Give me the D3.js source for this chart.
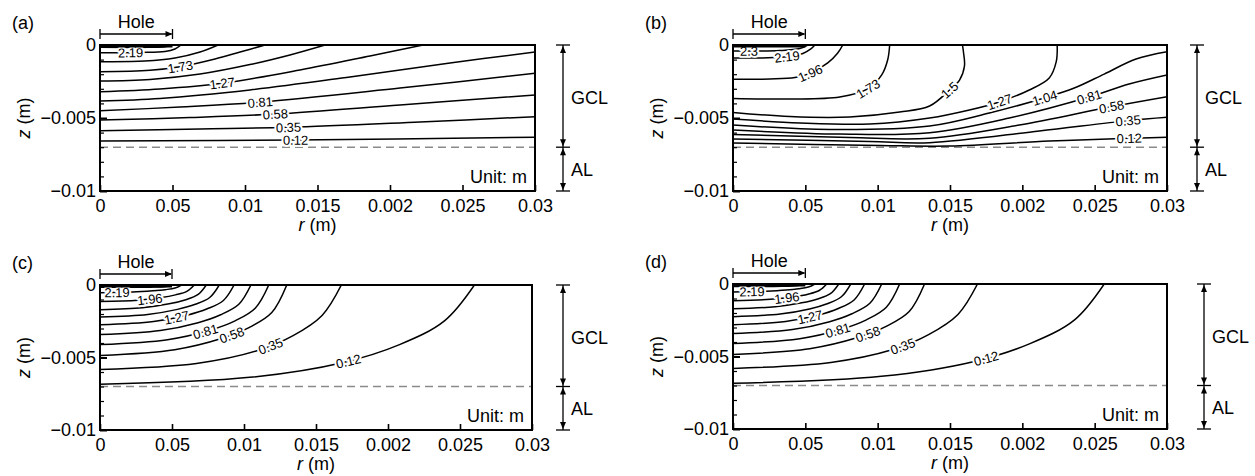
<!DOCTYPE html>
<html><head><meta charset="utf-8">
<script src="https://cdn.jsdelivr.net/npm/d3@7"></script>
<style>
html,body{margin:0;padding:0;background:#fff;}
svg{display:block;font-family:"Liberation Sans",Arial,Helvetica,sans-serif;}
</style></head><body>
<svg id="chart" width="1255" height="476"></svg>
<script>
// ---------------- data ----------------
const panelLabels = ["(a)", "(b)", "(c)", "(d)"];
const xTickValues = [0, 0.005, 0.01, 0.015, 0.02, 0.025, 0.03];
const xTickLabels = ["0", "0.05", "0.01", "0.015", "0.002", "0.025", "0.03"];
const yTickValues = [0, -0.005, -0.01];
const yTickLabels = ["0", "\u22120.005", "\u22120.01"];
const yMinorTicks = [-0.001, -0.002, -0.003, -0.004, -0.006, -0.007, -0.008, -0.009];
const rDomain = [0, 0.03];
const zDomain = [-0.01, 0];
const holeRadius = 0.005;     // m
const interfaceZ = -0.007;    // GCL / AL interface, m
const layerNames = ["GCL", "AL"];
const unitText = "Unit: m";
const MM = 0.001;             // contour points below are [r, z] in mm

const contoursA = [
  {level: 2.3,  labelR: null,  pts: [[0,-0.16],[3.45,-0.16],[4.48,-0.12],[4.90,0]]},
  {level: 2.19, labelR: 2.07,  pts: [[0,-0.53],[2.76,-0.51],[4.48,-0.45],[5.17,-0.27],[5.59,0]]},
  {level: 1.96, labelR: null,  pts: [[0,-1.14],[3.10,-1.10],[5.17,-0.89],[6.90,-0.48],[8.14,0]]},
  {level: 1.73, labelR: 5.52,  pts: [[0,-1.83],[3.45,-1.73],[5.52,-1.49],[7.93,-0.96],[9.66,-0.48],[11.38,0]]},
  {level: 1.5,  labelR: null,  pts: [[0,-2.47],[3.45,-2.36],[6.90,-1.99],[10.34,-1.34],[13.10,-0.68],[15.52,0]]},
  {level: 1.27, labelR: 8.41,  pts: [[0,-3.20],[4.14,-3.01],[8.41,-2.62],[13.79,-1.71],[18.62,-0.75],[22.28,0]]},
  {level: 1.04, labelR: null,  pts: [[0,-3.84],[4.14,-3.66],[10.34,-3.08],[17.24,-2.19],[24.14,-1.23],[30,-0.48]]},
  {level: 0.81, labelR: 11.03, pts: [[0,-4.50],[5.52,-4.25],[11.03,-3.92],[20.69,-2.95],[30,-1.94]]},
  {level: 0.58, labelR: 12.07, pts: [[0,-5.14],[6.21,-4.97],[12.07,-4.73],[20.69,-4.11],[30,-3.42]]},
  {level: 0.35, labelR: 12.97, pts: [[0,-5.87],[6.90,-5.75],[12.97,-5.64],[22.07,-5.27],[30,-4.91]]},
  {level: 0.12, labelR: 13.45, pts: [[0,-6.58],[13.45,-6.51],[30,-6.32]]}
];

const contoursB = [
  {level: 2.3,  labelR: 1.10,  pts: [[0,-0.41],[3.24,-0.38],[4.62,-0.24],[5.17,0]]},
  {level: 2.19, labelR: 3.72,  pts: [[0,-0.89],[2.41,-0.88],[3.79,-0.79],[4.83,-0.58],[5.38,-0.27],[5.66,0]]},
  {level: 1.96, labelR: 5.31,  pts: [[0,-2.35],[2.55,-2.33],[4.28,-2.23],[5.31,-1.94],[6.55,-1.23],[7.24,-0.55],[7.59,0]]},
  {level: 1.73, labelR: 9.31,  pts: [[0,-3.66],[3.93,-3.70],[7.38,-3.56],[9.31,-3.01],[10.28,-2.05],[10.69,-1.03],[10.83,0]]},
  {level: 1.5,  labelR: 14.97, pts: [[0,-4.62],[3.93,-4.90],[8.07,-4.93],[11.52,-4.59],[13.59,-4.18],[14.97,-3.08],[15.66,-2.40],[16.00,-1.44],[15.93,-0.48],[15.86,0]]},
  {level: 1.27, labelR: 18.41, pts: [[0,-5.07],[4.62,-5.34],[9.45,-5.41],[13.59,-5.00],[16.34,-4.45],[18.41,-3.90],[20.48,-3.08],[21.86,-2.26],[22.34,-1.16],[22.41,0]]},
  {level: 1.04, labelR: 21.52, pts: [[0,-5.48],[6.69,-5.79],[13.59,-5.55],[17.72,-4.66],[21.52,-3.63],[23.59,-2.95],[25.66,-1.99],[27.86,-0.96],[30,-0.46]]},
  {level: 0.81, labelR: 24.62, pts: [[0,-5.82],[7.38,-6.10],[13.59,-6.01],[19.10,-5.00],[24.62,-3.56],[27.38,-2.67],[30,-2.05]]},
  {level: 0.58, labelR: 26.14, pts: [[0,-6.13],[8.07,-6.34],[13.59,-6.39],[19.79,-5.48],[26.14,-4.23],[30,-3.54]]},
  {level: 0.35, labelR: 27.31, pts: [[0,-6.44],[9.45,-6.61],[13.59,-6.69],[21.17,-5.89],[27.31,-5.18],[30,-4.95]]},
  {level: 0.12, labelR: 27.38, pts: [[0,-6.71],[10.14,-6.88],[14.97,-6.92],[21.86,-6.58],[27.38,-6.39],[30,-6.32]]}
];

const contoursC = [
  {level: 2.3,  labelR: null,  pts: [[0,-0.16],[3.50,-0.15],[4.60,-0.10],[5.03,0]]},
  {level: 2.19, labelR: 1.15,  pts: [[0,-0.53],[2.26,-0.49],[3.68,-0.40],[4.53,-0.32],[5.21,-0.21],[5.66,0]]},
  {level: 1.96, labelR: 3.45,  pts: [[0,-1.14],[2.62,-1.05],[4.26,-0.87],[5.24,-0.68],[6.03,-0.44],[6.55,0]]},
  {level: 1.73, labelR: null,  pts: [[0,-1.71],[2.95,-1.57],[4.80,-1.30],[5.90,-1.03],[6.79,-0.67],[7.38,0]]},
  {level: 1.5,  labelR: null,  pts: [[0,-2.21],[3.31,-2.03],[5.38,-1.68],[6.62,-1.33],[7.62,-0.86],[8.28,0]]},
  {level: 1.27, labelR: 5.29,  pts: [[0,-2.74],[3.72,-2.51],[6.05,-2.08],[7.45,-1.64],[8.57,-1.07],[9.31,0]]},
  {level: 1.04, labelR: null,  pts: [[0,-3.42],[4.19,-3.14],[6.81,-2.60],[8.38,-2.05],[9.64,-1.33],[10.48,0]]},
  {level: 0.81, labelR: 7.31,  pts: [[0,-4.11],[4.69,-3.77],[7.62,-3.12],[9.38,-2.47],[10.78,-1.60],[11.72,0]]},
  {level: 0.58, labelR: 9.14,  pts: [[0,-4.86],[5.19,-4.46],[8.43,-3.69],[10.38,-2.92],[11.93,-1.90],[12.97,0]]},
  {level: 0.35, labelR: 11.84, pts: [[0,-5.82],[6.70,-5.41],[10.89,-4.54],[13.41,-3.49],[15.42,-2.10],[16.76,0]]},
  {level: 0.12, labelR: 17.24, pts: [[0,-6.85],[10.40,-6.37],[16.90,-5.34],[20.80,-4.11],[23.92,-2.47],[26.00,0]]}
];

const contoursD = [
  {level: 2.3,  labelR: null,  pts: [[0,-0.17],[3.40,-0.16],[4.50,-0.10],[4.97,0]]},
  {level: 2.19, labelR: 1.29,  pts: [[0,-0.55],[2.26,-0.50],[3.68,-0.42],[4.53,-0.33],[5.21,-0.21],[5.66,0]]},
  {level: 1.96, labelR: 3.70,  pts: [[0,-1.16],[2.59,-1.06],[4.21,-0.88],[5.18,-0.70],[5.96,-0.45],[6.48,0]]},
  {level: 1.73, labelR: null,  pts: [[0,-1.71],[2.92,-1.57],[4.75,-1.30],[5.85,-1.03],[6.73,-0.67],[7.31,0]]},
  {level: 1.5,  labelR: null,  pts: [[0,-2.26],[3.26,-2.07],[5.29,-1.72],[6.51,-1.36],[7.49,-0.88],[8.14,0]]},
  {level: 1.27, labelR: 5.31,  pts: [[0,-2.81],[3.64,-2.58],[5.92,-2.14],[7.28,-1.69],[8.37,-1.10],[9.10,0]]},
  {level: 1.04, labelR: null,  pts: [[0,-3.42],[4.11,-3.14],[6.68,-2.60],[8.22,-2.05],[9.46,-1.33],[10.28,0]]},
  {level: 0.81, labelR: 7.24,  pts: [[0,-4.11],[4.61,-3.77],[7.49,-3.12],[9.22,-2.47],[10.60,-1.60],[11.52,0]]},
  {level: 0.58, labelR: 9.31,  pts: [[0,-4.86],[5.30,-4.46],[8.61,-3.69],[10.59,-2.92],[12.18,-1.90],[13.24,0]]},
  {level: 0.35, labelR: 11.72, pts: [[0,-5.82],[6.76,-5.41],[10.99,-4.54],[13.52,-3.49],[15.55,-2.10],[16.90,0]]},
  {level: 0.12, labelR: 17.50, pts: [[0,-6.85],[10.26,-6.37],[16.68,-5.34],[20.53,-4.11],[23.61,-2.47],[25.66,0]]}
];

const allContours = [contoursA, contoursB, contoursC, contoursD];

// ---------------- layout ----------------
const layout = [
  {x: 100, y: 45,  w: 435, h: 146, bx: 563},
  {x: 733, y: 45,  w: 434, h: 146, bx: 1197},
  {x: 100, y: 285, w: 432, h: 145, bx: 563},
  {x: 733, y: 284, w: 434, h: 145, bx: 1204}
];
const FS = 18;
const svg = d3.select("#chart");

function arrowHead(g, x, y, dir) { // dir: "up","down","right"
  const L = 7, H = 3;
  let pts;
  if (dir === "up") pts = [[x, y], [x - H, y + L], [x + H, y + L]];
  else if (dir === "down") pts = [[x, y], [x - H, y - L], [x + H, y - L]];
  else pts = [[x, y], [x - L, y - H], [x - L, y + H]];
  g.append("path").attr("d", "M" + pts.map(p => p.join(",")).join("L") + "Z").attr("fill", "#000");
}

function drawPanel(i) {
  const L = layout[i];
  const data = allContours[i];
  const g = svg.append("g");
  const x = d3.scaleLinear().domain(rDomain).range([L.x, L.x + L.w]);
  const y = d3.scaleLinear().domain(zDomain).range([L.y + L.h, L.y]);
  const clipId = "clip" + i;
  svg.append("clipPath").attr("id", clipId).append("rect")
    .attr("x", L.x).attr("y", L.y).attr("width", L.w).attr("height", L.h);

  // interface dashed line
  g.append("line")
    .attr("x1", x(rDomain[0])).attr("x2", x(rDomain[1]))
    .attr("y1", y(interfaceZ)).attr("y2", y(interfaceZ))
    .attr("stroke", "#8a8a8a").attr("stroke-width", 1.5).attr("stroke-dasharray", "8,5");

  // contour lines
  const line = d3.line()
    .x(d => x(d[0] * MM)).y(d => y(d[1] * MM))
    .curve(d3.curveCatmullRom.alpha(0.5));
  const cg = g.append("g").attr("clip-path", `url(#${clipId})`);
  const labels = [];
  data.forEach(c => {
    const p = cg.append("path").attr("d", line(c.pts))
      .attr("fill", "none").attr("stroke", "#000").attr("stroke-width", 1.5);
    if (c.labelR != null) labels.push({c, node: p.node()});
  });

  // contour labels: white halo behind text, then text
  const lg = g.append("g");
  labels.forEach(({c, node}) => {
    const total = node.getTotalLength();
    const tx = x(c.labelR * MM);
    let best = null;
    for (let s = 0; s <= total; s += 0.5) {
      if (node.getPointAtLength(s).x >= tx) { best = s; break; }
    }
    if (best == null) best = total / 2;
    const p0 = node.getPointAtLength(Math.max(0, best - 5));
    const p1 = node.getPointAtLength(Math.min(total, best + 5));
    const pm = node.getPointAtLength(best);
    let ang = Math.atan2(p1.y - p0.y, p1.x - p0.x) * 180 / Math.PI;
    if (ang > 90) ang -= 180;
    if (ang < -90) ang += 180;
    const tg = lg.append("g").attr("transform", `translate(${pm.x},${pm.y}) rotate(${ang})`);
    const txt = String(c.level);
    tg.append("text").attr("text-anchor", "middle").attr("dy", "0.36em")
      .attr("font-size", 13).attr("fill", "#fff").attr("stroke", "#fff").attr("stroke-width", 4)
      .attr("stroke-linejoin", "round").text(txt);
    tg.append("text").attr("text-anchor", "middle").attr("dy", "0.36em")
      .attr("font-size", 13).attr("fill", "#000").text(txt);
  });

  // hole (thick segment on top boundary)
  g.append("line")
    .attr("x1", x(0)).attr("x2", x(holeRadius))
    .attr("y1", y(0) + 1).attr("y2", y(0) + 1)
    .attr("stroke", "#000").attr("stroke-width", 3);

  // axes
  const xAxis = d3.axisBottom(x).tickValues(xTickValues)
    .tickFormat((d, j) => xTickLabels[j]).tickSizeInner(-6).tickSizeOuter(0).tickPadding(8);
  const gx = g.append("g").attr("transform", `translate(0,${L.y + L.h})`).call(xAxis);
  gx.select(".domain").remove();
  gx.selectAll("line").attr("stroke-width", 1.6);
  gx.selectAll("text").attr("font-size", FS).attr("font-family", "Liberation Sans, Arial, sans-serif").attr("fill", "#000");

  const yAxis = d3.axisLeft(y).tickValues(yTickValues)
    .tickFormat((d, j) => yTickLabels[j]).tickSizeInner(-7).tickSizeOuter(0).tickPadding(4);
  const gy = g.append("g").attr("transform", `translate(${L.x},0)`).call(yAxis);
  gy.select(".domain").remove();
  gy.selectAll("line").attr("stroke-width", 2);
  gy.selectAll("text").attr("font-size", FS).attr("font-family", "Liberation Sans, Arial, sans-serif").attr("fill", "#000");

  const yMinor = d3.axisLeft(y).tickValues(yMinorTicks).tickFormat("").tickSizeInner(-4).tickSizeOuter(0);
  const gym = g.append("g").attr("transform", `translate(${L.x},0)`).call(yMinor);
  gym.select(".domain").remove();
  gym.selectAll("line").attr("stroke-width", 1.2);

  // frame
  g.append("rect").attr("x", L.x).attr("y", L.y).attr("width", L.w).attr("height", L.h)
    .attr("fill", "none").attr("stroke", "#000").attr("stroke-width", 2);

  // axis titles
  g.append("text").attr("x", L.x + L.w / 2).attr("y", L.y + L.h + 40)
    .attr("text-anchor", "middle").attr("font-size", FS)
    .call(t => { t.append("tspan").attr("font-style", "italic").text("r"); t.append("tspan").text(" (m)"); });
  g.append("text")
    .attr("transform", `translate(${L.x - 76},${L.y + L.h / 2}) rotate(-90)`)
    .attr("text-anchor", "middle").attr("dy", "0.35em").attr("font-size", FS)
    .call(t => { t.append("tspan").attr("font-style", "italic").text("z"); t.append("tspan").text(" (m)"); });

  // panel label
  g.append("text").attr("x", L.x - 88).attr("y", L.y - 16).attr("font-size", FS).text(panelLabels[i]);

  // Hole bracket
  const hy = L.y - 11;
  g.append("line").attr("x1", x(0)).attr("x2", x(holeRadius) - 1).attr("y1", hy).attr("y2", hy)
    .attr("stroke", "#000").attr("stroke-width", 1.3);
  g.append("line").attr("x1", x(0)).attr("x2", x(0)).attr("y1", hy - 5).attr("y2", hy + 5)
    .attr("stroke", "#000").attr("stroke-width", 1.3);
  g.append("line").attr("x1", x(holeRadius)).attr("x2", x(holeRadius)).attr("y1", hy - 5).attr("y2", hy + 5)
    .attr("stroke", "#000").attr("stroke-width", 1.3);
  arrowHead(g, x(holeRadius), hy, "right");
  g.append("text").attr("x", x(holeRadius / 2)).attr("y", L.y - 17)
    .attr("text-anchor", "middle").attr("font-size", FS).text("Hole");

  // Unit text
  g.append("text").attr("x", L.x + L.w - 8).attr("y", L.y + L.h - 8)
    .attr("text-anchor", "end").attr("font-size", FS).text(unitText);

  // GCL / AL bracket
  const bx = L.bx, yt = y(0), ym = y(interfaceZ), yb = y(zDomain[0]);
  g.append("line").attr("x1", bx).attr("x2", bx).attr("y1", yt).attr("y2", yb)
    .attr("stroke", "#000").attr("stroke-width", 1.3);
  [yt, ym, yb].forEach(yy => g.append("line").attr("x1", bx - 7).attr("x2", bx + 7)
    .attr("y1", yy).attr("y2", yy).attr("stroke", "#000").attr("stroke-width", 1.3));
  arrowHead(g, bx, yt + 1, "up");
  arrowHead(g, bx, ym - 1, "down");
  arrowHead(g, bx, ym + 1, "up");
  arrowHead(g, bx, yb - 1, "down");
  g.append("text").attr("x", bx + 8).attr("y", (yt + ym) / 2 + 8).attr("font-size", FS).text(layerNames[0]);
  g.append("text").attr("x", bx + 8).attr("y", (ym + yb) / 2 + 7).attr("font-size", FS).text(layerNames[1]);
}

[0, 1, 2, 3].forEach(drawPanel);
</script>
</body></html>
